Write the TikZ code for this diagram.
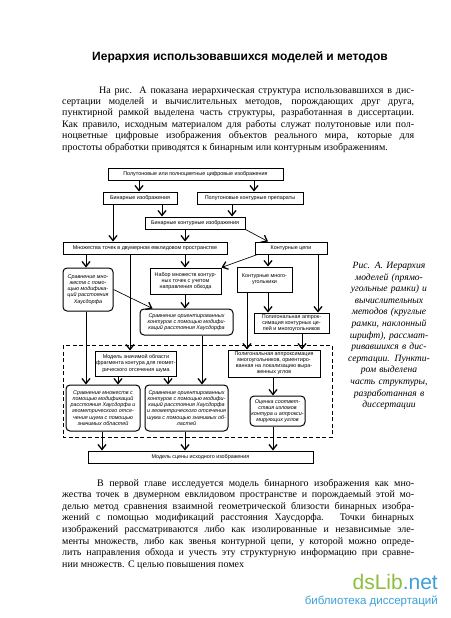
\documentclass[tikz,border=0pt]{standalone}
\usepackage{fontspec}
\setmainfont{Liberation Serif}
\setsansfont{Liberation Sans}
\usetikzlibrary{arrows.meta,positioning}
\definecolor{libgreen}{RGB}{141,190,60}
\definecolor{libblue}{RGB}{60,160,215}
\newcommand{\dfont}{\sffamily\fontsize{5.4}{6.1}\selectfont}
\newcommand{\jline}[1]{\makebox[352pt][s]{#1}}

\begin{document}
\begin{tikzpicture}[x=1pt,y=-1pt,
  mbox/.style={draw, line width=1pt, inner sep=0.5pt, align=center, font=\dfont},
  rbox/.style={mbox, rounded corners=4pt, font=\dfont\itshape},
  arr/.style={line width=0.65pt, -{Straight Barb[length=5pt,width=8pt,line width=1.3pt]}}]
\fill[white] (0,0) rectangle (450,618);
\useasboundingbox (0,0) rectangle (450,618);

% title and text
\node[anchor=base, font=\sffamily\bfseries\fontsize{12}{14}\selectfont] (title) at (240,60) {Иерархия использовавшихся моделей и методов};
\node[anchor=base west, inner sep=0, font=\fontsize{10}{11.4}\selectfont] (parone) at (62,93) {\parbox[t]{352pt}{%
\jline{\hspace*{37pt}На рис. А показана иерархическая структура использовавшихся в дис-}\\
\jline{сертации моделей и вычислительных методов, порождающих друг друга,}\\
\jline{пунктирной рамкой выделена часть структуры, разработанная в диссертации.}\\
\jline{Как правило, исходным материалом для работы служат полутоновые или пол-}\\
\jline{ноцветные цифровые изображения объектов реального мира, которые для}\\
простоты обработки приводятся к бинарным или контурным изображениям.}};

% upper part
\node[mbox, minimum width=175, minimum height=12] (pic) at (195.5,174) {Полутоновые или полноцветные цифровые изображения};
\node[mbox, minimum width=74, minimum height=12] (binimg) at (140,198) {Бинарные изображения};
\node[mbox, minimum width=106, minimum height=12] (halfcont) at (250,198) {Полутоновые контурные препараты};
\node[mbox, minimum width=100, minimum height=12] (bincont) at (195,223) {Бинарные контурные изображения};
\node[mbox, minimum width=164, minimum height=12] (ptset) at (145,248) {Множества точек в двумерном евклидовом пространстве};
\node[mbox, minimum width=72, minimum height=12] (cchain) at (291,248) {Контурные цепи};

\node[rbox, minimum width=50, minimum height=43] (hdist) at (88,289.5) {Сравнение мно-\\жеств с помо-\\щью модифика-\\ций расстояния\\Хаусдорфа};
\node[mbox, minimum width=71, minimum height=26] (orset) at (185.5,281) {Набор множеств контур-\\ных точек с учетом\\направления обхода};
\node[mbox, minimum width=55, minimum height=25] (cpoly) at (264.5,279.5) {Контурные много-\\угольники};
\node[rbox, minimum width=93, minimum height=26] (hdorient) at (186.5,322) {Сравнение ориентированных\\контуров с помощью модифи-\\каций расстояния Хаусдорфа};
\node[mbox, minimum width=75, minimum height=20] (polyapp) at (291.5,323) {Полигональная аппрок-\\симация контурных це-\\пей и многоугольников};

% part developed in the thesis
\draw[line width=0.7pt, dash pattern=on 4pt off 2.5pt] (63,345) rectangle (332,437);
\node[mbox, minimum width=76, minimum height=25] (signif) at (136,363.5) {Модель значимой области\\фрагмента контура для геомет-\\рического отсечения шума};
\node[mbox, minimum width=92, minimum height=27] (polyang) at (274,363.5) {Полигональная аппроксимация\\многоугольников, ориентиро-\\ванная на локализацию выра-\\женных углов};
\node[rbox, minimum width=74, minimum height=46] (hdnoise) at (103,408) {Сравнение множеств с\\помощью модификаций\\расстояния Хаусдорфа и\\геометрического отсе-\\чения шума с помощью\\значимых областей};
\node[rbox, minimum width=83, minimum height=46] (hdornoise) at (186.5,408) {Сравнение ориентированных\\контуров с помощью модифи-\\каций расстояния Хаусдорфа\\и геометрического отсечения\\шума с помощью значимых об-\\ластей};
\node[rbox, minimum width=55, minimum height=30] (angest) at (277.5,411) {Оценка соответ-\\ствия изломов\\контура и аппрокси-\\мирующих углов};
\node[mbox, minimum width=225, minimum height=12] (scene) at (200.5,457) {Модель сцены исходного изображения};

% connectors
\draw[arr] (pic.south -| 139,0) -- (binimg.north -| 139,0);
\draw[arr] (pic.south -| 254,0) -- (halfcont.north -| 254,0);
\draw[arr] (binimg.south -| 162,0) -- (bincont.north -| 162,0);
\draw[arr] (halfcont.south -| 232,0) -- (bincont.north -| 232,0);
\draw[arr] (binimg.south -| 113,0) -- (ptset.north -| 113,0);
\draw[arr] (bincont.south -| 185,0) -- (ptset.north -| 185,0);
\draw[arr] (bincont.south east) -- ([xshift=-23pt]cchain.north);
\draw[arr] (ptset.south -| 86,0) -- (hdist.north -| 86,0);
\draw[arr] (ptset.south -| 185,0) -- (orset.north -| 185,0);
\draw[arr] ([xshift=3pt]cchain.south west) -- (orset.north east);
\draw[arr] (cchain.south -| 268,0) -- (cpoly.north -| 268,0);
\draw[arr] (cchain.south -| 318,0) -- (polyapp.north -| 318,0);
\draw[arr] (hdist.east) -- ([xshift=13pt]hdorient.north west);
\draw[arr] (orset.south -| 185,0) -- (hdorient.north -| 185,0);
\draw[arr] (cpoly.south -| 268,0) -- (polyapp.north -| 268,0);
\draw[arr] (ptset.south -| 130,0) -- (signif.north -| 130,0);
\draw[arr] (cpoly.south -| 247,0) -- (polyang.north -| 247,0);
\draw[arr] (polyapp.south -| 302,0) -- (polyang.north -| 302,0);
\draw[arr] (hdist.south -| 86,0) -- (hdnoise.north -| 86,0);
\draw[arr] (signif.south -| 118,0) -- (hdnoise.north -| 118,0);
\draw[arr] (signif.south -| 168,0) -- (hdornoise.north -| 168,0);
\draw[arr] (hdorient.south -| 202,0) -- (hdornoise.north -| 202,0);
\draw[arr] (polyang.south -| 273,0) -- (angest.north -| 273,0);
\draw[arr] (hdnoise.south -| 102,0) -- (scene.north -| 102,0);
\draw[arr] (hdornoise.south -| 185,0) -- (scene.north -| 185,0);
\draw[arr] (angest.south -| 273,0) -- (scene.north -| 273,0);

% caption
\node[anchor=north, text width=112pt, align=center, inner sep=0, font=\itshape\fontsize{9.6}{11.6}\selectfont] (capt) at (389,262) {Рис. А. Иерархия\\моделей (прямо-\\угольные рамки) и\\вычислительных\\методов (круглые\\рамки, наклонный\\шрифт), рассмат-\\ривавшихся в дис-\\сертации. Пункти-\\ром выделена\\часть структуры,\\разработанная в\\диссертации};

\node[anchor=base west, inner sep=0, font=\fontsize{10}{11.6}\selectfont] (partwo) at (62,486) {\parbox[t]{352pt}{%
\jline{\hspace*{35pt}В первой главе исследуется модель бинарного изображения как мно-}\\
\jline{жества точек в двумерном евклидовом пространстве и порождаемый этой мо-}\\
\jline{делью метод сравнения взаимной геометрической близости бинарных изобра-}\\
\jline{жений с помощью модификаций расстояния Хаусдорфа. Точки бинарных}\\
\jline{изображений рассматриваются либо как изолированные и независимые эле-}\\
\jline{менты множеств, либо как звенья контурной цепи, у которой можно опреде-}\\
\jline{лить направления обхода и учесть эту структурную информацию при сравне-}\\
нии множеств. С целью повышения помех}};

% watermark
\node[anchor=base east, inner sep=0, font=\sffamily\fontsize{21}{21}\selectfont] (wmark) at (438,589) {\textcolor{libgreen}{dsLib}\textcolor{libblue}{.net}};
\node[anchor=base east, inner sep=0, font=\sffamily\fontsize{11.5}{12}\selectfont, text=libblue] (wmsub) at (438,604) {библиотека диссертаций};
\end{tikzpicture}
\end{document}
